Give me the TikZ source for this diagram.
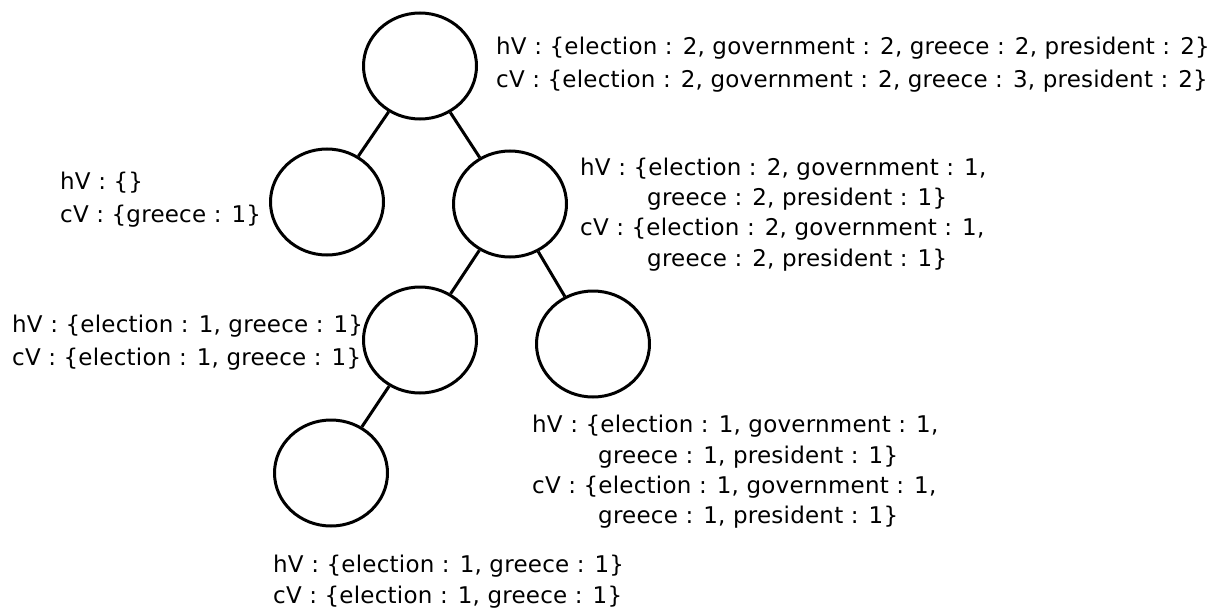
\documentclass[tikz,border=0pt]{standalone}
\usepackage{fontspec}
\setmainfont{DejaVu Sans}[LetterSpace=1.0]
\usetikzlibrary{shapes.geometric}
\begin{document}
\begin{tikzpicture}[x=1pt,y=-1pt,
  treenode/.style={draw, ellipse, line width=3pt, minimum width=113pt,
    minimum height=106pt, inner sep=0pt},
  tlabel/.style={anchor=base west, inner sep=0pt, font=\fontsize{23}{28}\selectfont},
  link/.style={line width=3pt}]
\useasboundingbox (0,0) rectangle (1226,610);

% tree nodes
\node[treenode] (root) at (420,66) {};
\node[treenode] (l)    at (327,202) {};
\node[treenode] (r)    at (510,204) {};
\node[treenode] (rl)   at (420,340) {};
\node[treenode] (rr)   at (593,344) {};
\node[treenode] (rll)  at (331,473) {};

% edges
\draw[link] (root) -- (l);
\draw[link] (root) -- (r);
\draw[link] (r) -- (rl);
\draw[link] (r) -- (rr);
\draw[link] (rl) -- (rll);

% vectors of each node
\node[tlabel] (rootH) at (496,55) {hV : \{election : 2, government : 2, greece : 2, president : 2\}};
\node[tlabel] (rootC) at (496,88) {cV : \{election : 2, government : 2, greece : 3, president : 2\}};

\node[tlabel] (lH) at (60,189) {hV : \{\}};
\node[tlabel] (lC) at (60,222) {cV : \{greece : 1\}};

\node[tlabel] (rH1) at (580,175) {hV : \{election : 2, government : 1,};
\node[tlabel] (rH2) at (647,205.5) {greece : 2, president : 1\}};
\node[tlabel] (rC1) at (580,235.5) {cV : \{election : 2, government : 1,};
\node[tlabel] (rC2) at (647,266) {greece : 2, president : 1\}};

\node[tlabel] (rlH) at (12,332) {hV : \{election : 1, greece : 1\}};
\node[tlabel] (rlC) at (12,365) {cV : \{election : 1, greece : 1\}};

\node[tlabel] (rrH1) at (532,432) {hV : \{election : 1, government : 1,};
\node[tlabel] (rrH2) at (598,463) {greece : 1, president : 1\}};
\node[tlabel] (rrC1) at (532,493) {cV : \{election : 1, government : 1,};
\node[tlabel] (rrC2) at (598,523) {greece : 1, president : 1\}};

\node[tlabel] (rllH) at (273,572) {hV : \{election : 1, greece : 1\}};
\node[tlabel] (rllC) at (273,603) {cV : \{election : 1, greece : 1\}};
\end{tikzpicture}
\end{document}
